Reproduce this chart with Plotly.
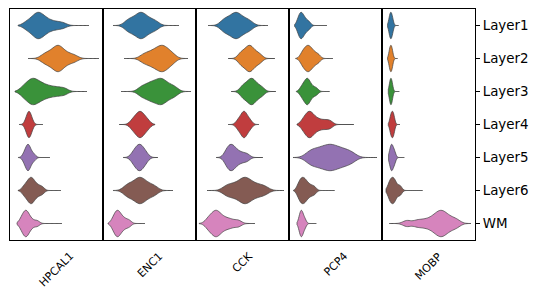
import plotly.graph_objects as go
from plotly.subplots import make_subplots

LAYERS = ["Layer1", "Layer2", "Layer3", "Layer4", "Layer5", "Layer6", "WM"]
GENES = ["HPCAL1", "ENC1", "CCK", "PCP4", "MOBP"]
COLORS = ["#3274a1", "#e1812c", "#3a923a", "#c03d3e", "#9372b2", "#845b53", "#d684bd"]

# expression samples per layer (arbitrary units per gene panel)
HPCAL1_SAMPLES = [
    [16, 20, 23, 25, 27, 28, 29, 31, 33, 35, 38, 42, 47, 53],
    [33, 37, 40, 43, 45, 47, 48, 49, 51, 53, 56, 60, 65],
    [13, 17, 20, 22, 24, 26, 29, 32, 36, 41, 47, 54],
    [16, 17.5, 18.5, 19, 19.5, 20.5, 22],
    [14, 16, 17, 18, 18.5, 19.5, 21, 24],
    [14, 17, 19, 20.5, 21.5, 23, 25, 28, 32],
    [11, 13, 14.5, 15.5, 16.5, 17.5, 19, 22, 27],
]
HPCAL1_SPAN = [[8, 79], [18, 89], [5, 77], [9, 33], [8, 40], [8, 51], [7, 52]]
HPCAL1_BW = [4, 4, 4, 2, 2, 2.5, 2.5]

ENC1_SAMPLES = [
    [24, 28, 32, 35, 37, 39, 41, 44, 48, 53],
    [40, 45, 49, 52, 55, 57, 59, 61, 63, 66, 70],
    [38, 43, 47, 50, 53, 56, 58, 60, 63, 67, 72],
    [29, 32, 34, 36, 37, 38, 40, 42, 45],
    [30, 33, 35, 36.5, 38, 40, 43],
    [23, 27, 31, 34, 36, 38, 40, 43, 47, 52],
    [10, 12, 13.5, 14.5, 15.5, 17, 19, 22, 26],
]
ENC1_SPAN = [[10, 76], [21, 85], [18, 88], [16, 52], [20, 55], [10, 70], [5, 42]]
ENC1_BW = [4, 4, 4, 3, 3, 4, 2.5]

CCK_SAMPLES = [
    [27, 31, 35, 38, 40, 42, 45, 49, 54],
    [44, 47, 50, 52, 53.5, 55, 57, 60, 64],
    [46, 49, 52, 54, 55.5, 57, 59, 62, 66],
    [42, 45, 47, 48, 49, 51, 54],
    [30, 32, 34, 35.5, 37, 39, 42, 46, 51],
    [30, 35, 40, 44, 47, 49, 51, 54, 58, 63, 69],
    [12, 15, 18, 19.5, 21, 23, 26, 30, 35, 42],
]
CCK_SPAN = [[12, 72], [32, 79], [35, 80], [32, 63], [20, 67], [11, 88], [3, 59]]
CCK_BW = [4, 3, 3, 2.5, 3, 4.5, 3.5]

PCP4_SAMPLES = [
    [9, 10.5, 11.5, 12.5, 13.5, 15, 17, 20],
    [13, 15.5, 17.5, 19, 20.5, 22.5, 25, 29],
    [12.5, 15, 17, 18, 19, 20.5, 23, 27],
    [14, 17, 19, 20.5, 22, 24, 27, 31, 36, 41],
    [20, 25, 30, 34, 38, 41, 44, 48, 52, 57, 63],
    [9.5, 11.5, 13, 14.5, 16, 18, 21, 25],
    [10.5, 11.5, 12.3, 13, 14, 16],
]
PCP4_SPAN = [[5.6, 38], [6.6, 44], [7.3, 40.6], [8, 65], [4, 88], [4.6, 45.6], [8, 27.3]]
PCP4_BW = [2, 2.5, 2.3, 3, 5, 2.3, 1.5]

MOBP_SAMPLES = [
    [7.5, 8.5, 9.3, 10.5],
    [7.5, 8.5, 9.3, 10.3],
    [7.8, 8.6, 9.3, 10.2],
    [8.5, 9.8, 10.8, 12],
    [8.3, 9.5, 10.5, 12.5],
    [7, 9, 10.5, 12, 14, 18],
    [25, 35, 42, 48, 52, 55, 57, 59, 61, 63, 66, 70, 75],
]
MOBP_SPAN = [[5.6, 16.6], [5.6, 15.6], [6.3, 17.3], [6.3, 18], [6.6, 22.3], [4, 40.6], [7.3, 89]]
MOBP_BW = [1.2, 1.1, 1.1, 1.2, 1.4, 2, 4]

SAMPLES = [HPCAL1_SAMPLES, ENC1_SAMPLES, CCK_SAMPLES, PCP4_SAMPLES, MOBP_SAMPLES]
SPANS = [HPCAL1_SPAN, ENC1_SPAN, CCK_SPAN, PCP4_SPAN, MOBP_SPAN]
BWS = [HPCAL1_BW, ENC1_BW, CCK_BW, PCP4_BW, MOBP_BW]

fig = make_subplots(rows=1, cols=len(GENES), horizontal_spacing=0, shared_yaxes=False)

for gi, gene in enumerate(GENES):
    for li, layer in enumerate(LAYERS):
        vals = SAMPLES[gi][li]
        fig.add_trace(
            go.Violin(
                x=vals,
                y=[layer] * len(vals),
                orientation="h",
                name=f"{gene} {layer}",
                fillcolor=COLORS[li],
                line=dict(color="#404040", width=0.7),
                opacity=1,
                points=False,
                box_visible=False,
                meanline_visible=False,
                spanmode="manual",
                span=SPANS[gi][li],
                bandwidth=BWS[gi][li],
                scalemode="width",
                width=0.8,
                showlegend=False,
                hoverinfo="skip",
            ),
            row=1, col=gi + 1,
        )

for gi in range(len(GENES)):
    fig.update_xaxes(
        range=[0, 93], showticklabels=False, ticks="", showgrid=False, zeroline=False,
        showline=True, mirror=True, linecolor="black", linewidth=1,
        row=1, col=gi + 1,
    )
    last = gi == len(GENES) - 1
    fig.update_yaxes(
        type="category", categoryorder="array", categoryarray=LAYERS,
        range=[6.5, -0.5], showgrid=False, zeroline=False,
        showline=True, mirror=True, linecolor="black", linewidth=1,
        showticklabels=last, ticks="outside" if last else "", ticklen=4,
        tickcolor="black", side="right" if last else "left",
        tickfont=dict(family="DejaVu Sans", size=13.4, color="black"),
        row=1, col=gi + 1,
    )
    fig.add_annotation(
        x=(gi + 0.5) / len(GENES), y=0, xref="paper", yref="paper",
        text=GENES[gi], showarrow=False, textangle=-45,
        xanchor="center", yanchor="top", yshift=-7,
        font=dict(family="DejaVu Sans", size=11, color="black"),
    )

fig.update_layout(
    width=542, height=303,
    margin=dict(l=10, r=67, t=9, b=63),
    paper_bgcolor="white", plot_bgcolor="white",
    violinmode="overlay",
    showlegend=False,
)

fig.write_html("out.html")
